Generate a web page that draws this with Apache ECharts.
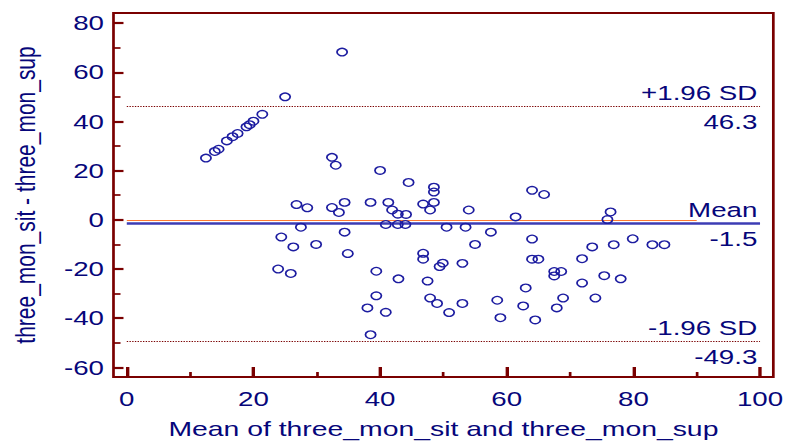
<!DOCTYPE html>
<html>
<head>
<meta charset="utf-8">
<script src="https://cdn.jsdelivr.net/npm/echarts@6/dist/echarts.min.js"></script>
<style>
html, body { margin: 0; padding: 0; background: #fff; overflow: hidden; }
/* the original picture is stretched sideways, so draw narrower and widen it */
#main { width: 584px; height: 444px; transform: scaleX(1.35103); transform-origin: 0 0; }
</style>
</head>
<body>
<div id="main"></div>
<script>
// [mean of the two, difference sit - sup]
var points = [
    [12.5, 25.1], [13.9, 27.8], [14.5, 28.7], [15.8, 32.1], [16.7, 33.8], [17.5, 35.1],
    [18.9, 37.8], [19.4, 38.7], [20.0, 40.1], [21.4, 42.9], [25.0, 50.0], [34.0, 68.2],
    [32.4, 25.4], [33.0, 22.2], [40.0, 20.1],
    [26.8, 6.2], [28.5, 4.9], [32.4, 5.0], [33.5, 3.0], [34.4, 7.1], [38.5, 7.1],
    [41.3, 7.1], [41.9, 4.0], [42.8, 2.3], [44.1, 2.2],
    [27.5, -3.0], [40.9, -1.9], [42.8, -1.9], [44.0, -1.9],
    [24.4, -7.0], [34.4, -5.0], [26.3, -11.0], [29.9, -10.0], [34.9, -13.7], [23.9, -20.0],
    [25.9, -21.8], [39.4, -20.9], [42.9, -24.0], [39.4, -30.9], [38.0, -35.8], [40.9, -37.6],
    [38.5, -46.7],
    [44.5, 15.2], [48.5, 13.3], [48.5, 11.3], [46.8, 6.4], [48.5, 7.1], [47.9, 4.0],
    [50.5, -3.0], [53.5, -3.0], [54.0, 4.0], [57.5, -5.0], [61.4, 1.2], [64.0, 12.0],
    [65.9, 10.3], [64.0, -7.8], [55.0, -10.0],
    [46.8, -13.6], [46.8, -16.0], [49.9, -17.6], [49.4, -19.0], [53.0, -17.7], [64.0, -16.0],
    [65.0, -16.0], [67.5, -21.0], [68.6, -21.0], [67.5, -22.8], [47.5, -24.9], [63.0, -27.7],
    [47.9, -31.8], [49.0, -34.0], [53.0, -34.0], [50.9, -37.7], [58.5, -32.7], [62.6, -35.0],
    [59.0, -39.8], [64.5, -40.7], [68.9, -31.8], [67.9, -35.8],
    [76.4, 3.2], [75.9, 0.1], [73.5, -11.0], [76.9, -10.1], [79.9, -7.7], [83.0, -10.1],
    [84.9, -10.1], [71.9, -15.8], [71.9, -25.7], [75.4, -22.7], [78.0, -24.0], [74.0, -31.8]
];

var meanDiff = -1.5;
var upperLimit = 46.3;
var lowerLimit = -49.3;
var lineStart = 0, lineEnd = 100, zeroEnd = 90;

var xMajorTicks = [0, 20, 40, 60, 80, 100];
var xMinorTicks = [10, 30, 50, 70, 90];
var yMajorTicks = [-60, -40, -20, 0, 20, 40, 60, 80];
var yMinorTicks = [-50, -30, -10, 10, 30, 50, 70];

var navy = '#06067a';
var maroon = '#7a0000';
var font = 'Liberation Sans';

function textStyle(size) {
    return { color: navy, fontSize: size, fontFamily: font };
}

function levelLine(y, top, bottom, style) {
    return [
        [{ coord: [lineStart, y], lineStyle: style,
           label: Object.assign({ show: true, formatter: top, position: 'insideEndTop', distance: [2, 3] }, textStyle(20.5)) },
         { coord: [lineEnd, y] }],
        [{ coord: [lineStart, y], lineStyle: { color: 'rgba(0,0,0,0)', width: 1 },
           label: Object.assign({ show: true, formatter: bottom, position: 'insideEndBottom', distance: [2, 5] }, textStyle(20.5)) },
         { coord: [lineEnd, y] }]
    ];
}

var sdStyle = { color: maroon, width: 1, type: 'dotted' };
var meanStyle = { color: '#3c3cb4', width: 2.5, type: 'solid' };

var markData = []
    .concat(levelLine(upperLimit, '+1.96 SD', upperLimit.toFixed(1), sdStyle))
    .concat(levelLine(meanDiff, 'Mean', meanDiff.toFixed(1), meanStyle))
    .concat(levelLine(lowerLimit, '-1.96 SD', lowerLimit.toFixed(1), sdStyle));
markData.unshift([
    { coord: [lineStart, 0], lineStyle: { color: '#ff7a30', width: 1, type: 'solid' }, label: { show: false } },
    { coord: [zeroEnd, 0] }
]);

var chart = echarts.init(document.getElementById('main'), null, { renderer: 'svg' });

var hiddenLine = { show: false, onZero: false };

var option = {
    animation: false,
    backgroundColor: '#fff',
    grid: {
        left: 81, right: 11.6, top: 13, bottom: 62.7,
        show: true, borderColor: maroon, borderWidth: 2
    },
    xAxis: [{
        type: 'value', min: -2.1, max: 102.1, position: 'bottom',
        axisLine: hiddenLine, splitLine: { show: false },
        axisTick: { inside: true, length: 10, customValues: xMajorTicks, lineStyle: { color: maroon, width: 2.5 } },
        axisLabel: Object.assign({ customValues: xMajorTicks, margin: 11 }, textStyle(20.5)),
        name: 'Mean of three_mon_sit and three_mon_sup',
        nameLocation: 'middle', nameGap: 41,
        nameTextStyle: textStyle(21)
    }, {
        type: 'value', min: -2.1, max: 102.1, position: 'bottom',
        axisLine: hiddenLine, splitLine: { show: false },
        axisTick: { inside: true, length: 5, customValues: xMinorTicks, lineStyle: { color: maroon, width: 2 } },
        axisLabel: { show: false }
    }],
    yAxis: [{
        type: 'value', min: -63.9, max: 84.1, position: 'left',
        axisLine: hiddenLine, splitLine: { show: false },
        axisTick: { inside: true, length: 7.4, customValues: yMajorTicks, lineStyle: { color: maroon, width: 2.2 } },
        axisLabel: Object.assign({ customValues: yMajorTicks, margin: 7 }, textStyle(20.5)),
        name: 'three_mon_sit - three_mon_sup',
        nameLocation: 'middle', nameGap: 55,
        nameTextStyle: textStyle(21)
    }, {
        type: 'value', min: -63.9, max: 84.1, position: 'left',
        axisLine: hiddenLine, splitLine: { show: false },
        axisTick: { inside: true, length: 5.2, customValues: yMinorTicks, lineStyle: { color: maroon, width: 1.7 } },
        axisLabel: { show: false }
    }],
    series: [{
        name: 'limits',
        type: 'scatter',
        data: [],
        markLine: {
            silent: true,
            symbol: 'none',
            data: markData
        }
    }, {
        name: 'diff',
        type: 'scatter',
        data: points,
        symbol: 'circle',
        symbolSize: 7.6,
        itemStyle: { color: 'rgba(0,0,0,0)', borderColor: '#1c1ca0', borderWidth: 1.3, opacity: 1 },
        z: 5
    }]
};

chart.setOption(option);
</script>
</body>
</html>
